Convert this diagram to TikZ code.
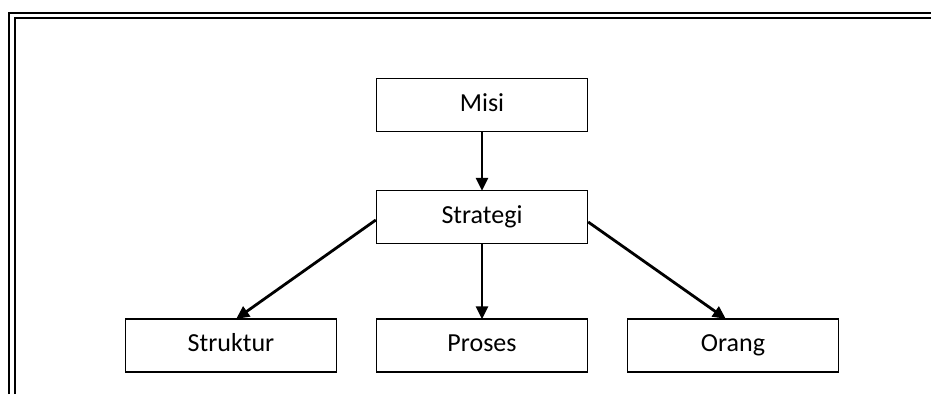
\documentclass[tikz,border=0pt]{standalone}
\usepackage{fontspec}
\setmainfont{Carlito}
\usetikzlibrary{arrows.meta,calc}
\begin{document}
\begin{tikzpicture}[x=1pt,y=-1pt,
  box/.style={draw=black,line width=1.4pt,minimum width=211pt,minimum height=53pt,
    inner sep=0pt,text height=17pt,text depth=5pt,font=\fontsize{26}{30}\selectfont},
  link/.style={draw=black,line width=2.8pt,-{Triangle[length=13pt,width=12pt]},shorten >=-1pt},
  frame/.style={draw=black,line width=1.6pt}]
\useasboundingbox (0,0) rectangle (931,394);
% double frame along the top and left edges
\draw[frame] (9,394) -- (9,13) -- (931,13);
\draw[frame] (15,394) -- (15,18) -- (931,18);
% boxes
\node[box] (misi) at (482,105) {Misi};
\node[box] (strategi) at (482,217) {Strategi};
\node[box] (struktur) at (231,345.5) {Struktur};
\node[box] (proses) at (482,345.5) {Proses};
\node[box] (orang) at (733,345.5) {Orang};
% connectors
\draw[link] (misi.south) -- (strategi.north);
\draw[link] (strategi.south) -- (proses.north);
\draw[link] ($(strategi.west)+(0,3)$) -- ($(struktur.north)+(6,0)$);
\draw[link] ($(strategi.east)+(0,5)$) -- ($(orang.north)+(-8,0)$);
\end{tikzpicture}
\end{document}
